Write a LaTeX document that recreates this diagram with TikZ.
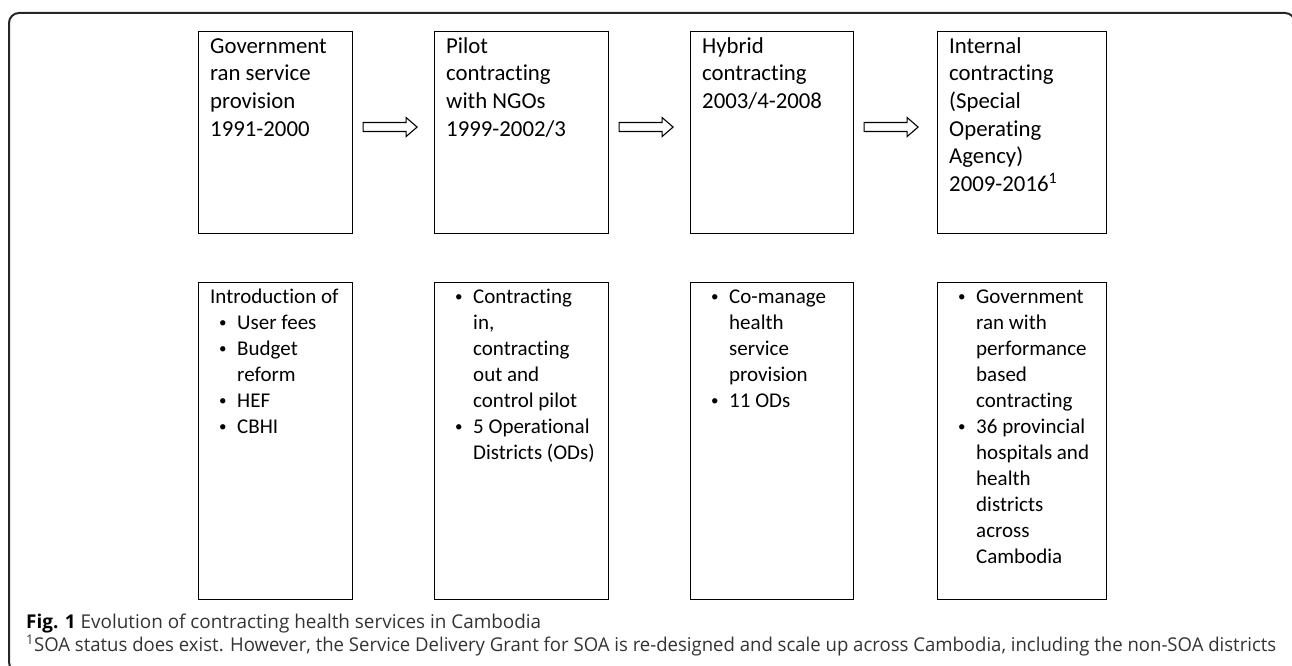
\documentclass[tikz,border=0pt]{standalone}
\usepackage{fontspec}
\setmainfont{Carlito}[Ligatures={NoCommon}]
\newfontfamily\capfont{Open Sans}
\usetikzlibrary{calc}
\newcommand\bul{\hspace*{9pt}\makebox[18pt][l]{\raisebox{1.5pt}{\fontsize{15}{15}\selectfont •}}}
\newcommand\ind{\hspace*{27pt}}
\newlength\capw
\newlength\capwa
\tikzset{
  frame/.style={draw=black!85, line width=2pt, rounded corners=10pt},
  box/.style={draw=black, line width=1.1pt, fill=none, inner sep=0pt, anchor=north west},
  toptext/.style={font=\fontsize{22.8}{27.6}\selectfont, align=left, inner sep=0pt, anchor=north west},
  bottext/.style={font=\fontsize{21}{26}\selectfont, align=left, inner sep=0pt, anchor=north west},
  barrow/.style={draw=black, line width=1.1pt, fill=white, line join=miter},
  capt/.style={font=\capfont\fontsize{19}{22}\selectfont, inner sep=0pt, anchor=base west, text=black!80},
}
\newcommand\capone{\textcolor{black}{\textbf{Fig. 1}} Evolution of contracting health services in Cambodia}
\newcommand\captwo{\textsuperscript{1}SOA status does exist. However, the Service Delivery Grant for SOA is re-designed and scale up across Cambodia, including the non-SOA districts}
\begin{document}
\settowidth{\capw}{\capfont\fontsize{19}{22}\selectfont\captwo}%
\settowidth{\capwa}{\capfont\fontsize{19}{22}\selectfont\capone}%
\pgfmathsetmacro\capsx{1250/\capw}%
\pgfmathsetmacro\capsxa{515/\capwa}%
\begin{tikzpicture}[x=1pt, y=-1pt]
\useasboundingbox (0,0) rectangle (1292,666);
\begin{scope}
\clip (0,0) rectangle (1292,666);
\draw[frame] (9,13) rectangle (1295,672);
\end{scope}

% top row boxes
\node[box, minimum width=154, minimum height=202] (t1) at (198,31) {};
\node[box, minimum width=174, minimum height=202] (t2) at (434,31) {};
\node[box, minimum width=163, minimum height=202] (t3) at (690,31) {};
\node[box, minimum width=169, minimum height=202] (t4) at (937,31) {};

% bottom row boxes
\node[box, minimum width=154, minimum height=317] (b1) at (198,282) {};
\node[box, minimum width=174, minimum height=317] (b2) at (434,282) {};
\node[box, minimum width=163, minimum height=317] (b3) at (690,282) {};
\node[box, minimum width=169, minimum height=317] (b4) at (937,282) {};

% top texts
\node[toptext] (t1x) at ($(t1.north west)+(12,2)$) {\rule{0pt}{20pt}Government\\ran service\\provision\\1991-2000};
\node[toptext] (t2x) at ($(t2.north west)+(12,2)$) {\rule{0pt}{20pt}Pilot\\contracting\\with NGOs\\1999-2002/3};
\node[toptext] (t3x) at ($(t3.north west)+(12,2)$) {\rule{0pt}{20pt}Hybrid\\contracting\\2003/4-2008};
\node[toptext] (t4x) at ($(t4.north west)+(12,2)$) {\rule{0pt}{20pt}Internal\\contracting\\(Special\\Operating\\Agency)\\2009-2016\textsuperscript{1}};

% bottom texts
\node[bottext] (b1x) at ($(b1.north west)+(12,1)$) {\rule{0pt}{20pt}Introduction of\\\bul User fees\\\bul Budget\\\ind reform\\\bul HEF\\\bul CBHI};
\node[bottext] (b2x) at ($(b2.north west)+(12,1)$) {\rule{0pt}{20pt}\bul Contracting\\\ind in,\\\ind contracting\\\ind out and\\\ind control pilot\\\bul 5 Operational\\\ind Districts (ODs)};
\node[bottext] (b3x) at ($(b3.north west)+(12,1)$) {\rule{0pt}{20pt}\bul Co-manage\\\ind health\\\ind service\\\ind provision\\\bul 11 ODs};
\node[bottext] (b4x) at ($(b4.north west)+(12,1)$) {\rule{0pt}{20pt}\bul Government\\\ind ran with\\\ind performance\\\ind based\\\ind contracting\\\bul 36 provincial\\\ind hospitals and\\\ind health\\\ind districts\\\ind across\\\ind Cambodia};

% block arrows
\coordinate (a1) at ($(t1.east)+(10,-5.5)$);
\coordinate (a2) at ($(t2.east)+(10,-5.5)$);
\coordinate (a3) at ($(t3.east)+(10,-5.5)$);
\foreach \a in {a1,a2,a3}{
  \draw[barrow] (\a) -- ++(0,4.5) -- ++(43,0) -- ++(0,5) -- ++(11,-9.5) -- ++(-11,-9.5) -- ++(0,5) -- ++(-43,0) -- cycle;
}

% caption
\node[capt] (cap1) at (26,628) {\scalebox{\capsxa}[1]{\capone}};
\node[capt] (cap2) at (26,651) {\scalebox{\capsx}[1]{\captwo}};
\end{tikzpicture}
\end{document}
